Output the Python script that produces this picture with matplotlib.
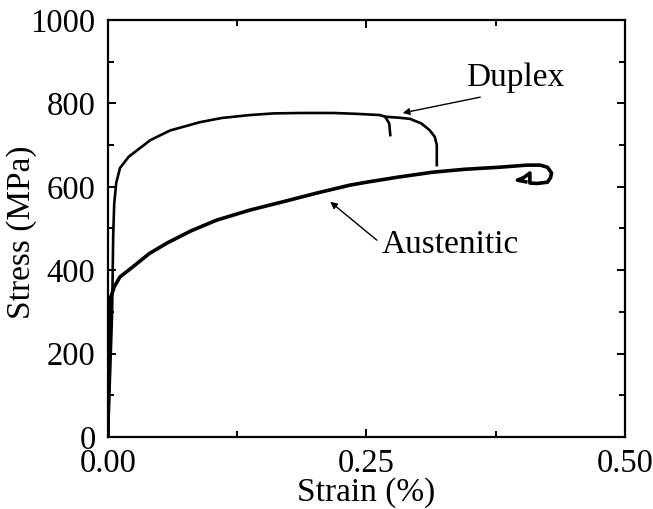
import matplotlib.pyplot as plt
from matplotlib.ticker import MultipleLocator

plt.rcParams['font.family'] = ['Liberation Serif', 'DejaVu Serif']

# duplex curve (strain %, stress MPa)
duplex_x = [0.0, 0.004, 0.005, 0.006, 0.008, 0.0116, 0.02, 0.041, 0.06, 0.089,
            0.11, 0.137, 0.16, 0.186, 0.218, 0.24, 0.263, 0.268, 0.28,
            0.292, 0.303, 0.311, 0.316, 0.318, 0.318]
duplex_y = [0, 300, 480, 560, 610, 645, 672, 712, 735, 755,
            765, 772, 776, 777, 777, 775, 772, 768, 766,
            763, 752, 736, 720, 700, 652]
# small branch near the end of duplex
branch_x = [0.268, 0.272, 0.273]
branch_y = [768, 752, 724]

# austenitic curve
aust_x = [0.0, 0.001, 0.002, 0.006, 0.0116, 0.024, 0.04, 0.057, 0.08, 0.105,
          0.137, 0.169, 0.202, 0.234, 0.25, 0.28, 0.314, 0.345, 0.379, 0.405,
          0.418, 0.425, 0.429, 0.428, 0.425, 0.415, 0.408, 0.408, 0.402, 0.396, 0.404]
aust_y = [0, 250, 330, 360, 384, 408, 440, 465, 494, 520,
          544, 564, 585, 604, 611, 623, 635, 642, 647, 652,
          652, 647, 633, 622, 611, 608, 609, 633, 622, 616, 612]

fig = plt.figure(figsize=(6.53, 5.09), dpi=100)
ax = fig.add_axes([0.1654, 0.1415, 0.7917, 0.8192])

ax.plot(aust_x, aust_y, color='black', lw=2.6, solid_joinstyle='round')
ax.plot(duplex_x, duplex_y, color='black', lw=1.9, solid_joinstyle='round')
ax.plot(branch_x, branch_y, color='black', lw=1.9)

ax.set_xlim(0, 0.5)
ax.set_ylim(0, 1000)
ax.xaxis.set_major_locator(MultipleLocator(0.25))
ax.xaxis.set_minor_locator(MultipleLocator(0.125))
ax.yaxis.set_major_locator(MultipleLocator(200))
ax.yaxis.set_minor_locator(MultipleLocator(100))
ax.xaxis.set_major_formatter(plt.FuncFormatter(lambda v, p: f'{v:.2f}'))

ax.tick_params(which='both', direction='in', top=True, right=True,
               width=1.4, labelsize=23.5)
ax.tick_params(axis='x', pad=8)
ax.tick_params(axis='y', pad=9)
ax.tick_params(which='major', length=6)
ax.tick_params(which='minor', length=4)
for s in ax.spines.values():
    s.set_linewidth(1.6)

ax.set_xlabel('Strain (%)', fontsize=24, labelpad=-1)
ax.set_ylabel('Stress (MPa)', fontsize=24)
ax.yaxis.set_label_coords(-0.137, 0.49)

# labels and arrows
ax.text(0.394, 861, 'Duplex', fontsize=24, ha='center', va='center')
ax.annotate('', xy=(0.285, 777), xytext=(0.360, 815),
            arrowprops=dict(arrowstyle='-|>', color='black', lw=1.0,
                            mutation_scale=10, shrinkA=0, shrinkB=0))
ax.text(0.331, 460, 'Austenitic', fontsize=24, ha='center', va='center')
ax.annotate('', xy=(0.215, 564), xytext=(0.260, 472),
            arrowprops=dict(arrowstyle='-|>', color='black', lw=1.0,
                            mutation_scale=10, shrinkA=0, shrinkB=0))

fig.savefig('out.png', dpi=100)
